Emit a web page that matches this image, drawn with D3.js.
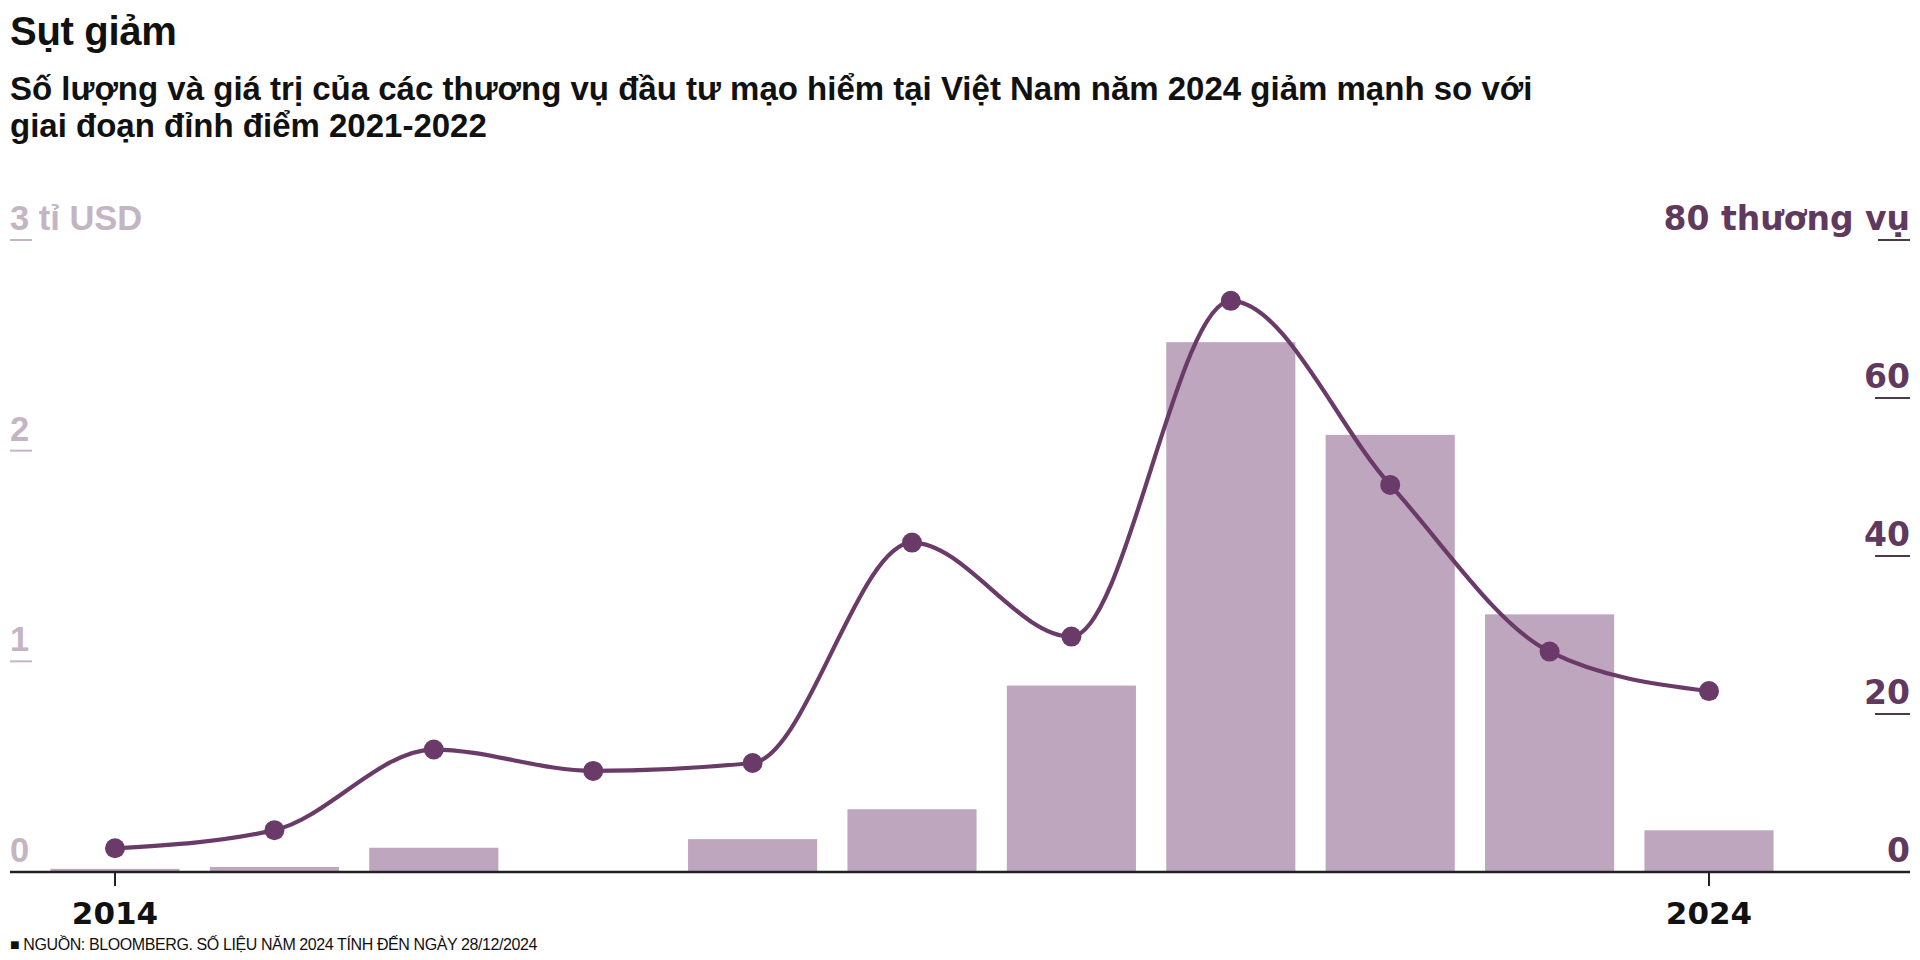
<!DOCTYPE html>
<html>
<head>
<meta charset="utf-8">
<script src="https://cdn.jsdelivr.net/npm/d3@7"></script>
<style>
  html, body { margin: 0; padding: 0; background: #fff; }
  svg { display: block; }
</style>
</head>
<body>
<div id="chart"></div>
<script>
const YEARS = [2014, 2015, 2016, 2017, 2018, 2019, 2020, 2021, 2022, 2023, 2024];
const VALUE_BN = [0.015, 0.024, 0.115, 0, 0.156, 0.298, 0.885, 2.515, 2.075, 1.223, 0.198];
const DEALS = [3, 5.3, 15.5, 12.8, 13.8, 41.7, 29.8, 72.3, 49, 27.9, 22.9];
const LEFT_TICKS = [0, 1, 2, 3];
const RIGHT_TICKS = [0, 20, 40, 60, 80];
const YEAR_LABELS = [2014, 2024];

const TITLE = 'Sụt giảm';
const SUBTITLE = ['Số lượng và giá trị của các thương vụ đầu tư mạo hiểm tại Việt Nam năm 2024 giảm mạnh so với', 'giai đoạn đỉnh điểm 2021-2022'];
const SOURCE = '■ NGUỒN: BLOOMBERG. SỐ LIỆU NĂM 2024 TÍNH ĐẾN NGÀY 28/12/2024';

const C = { bar: '#bea6be', line: '#6a3b69', leftText: '#c4b4c4', rightText: '#5f395e', axis: '#222' };

const W = 1920, H = 960, M = { t: 240, r: 10, b: 88, l: 10 };
const svg = d3.select('#chart').append('svg').attr('width', W).attr('height', H).attr('viewBox', `0 0 ${W} ${H}`);

const step = 159.4;
const x = d3.scaleBand().domain(YEARS).range([115 - step / 2, 1709 + step / 2]).paddingInner(0.19).paddingOuter(0.095);
const yL = d3.scaleLinear().domain([0, 3]).range([H - M.b, M.t]);
const yR = d3.scaleLinear().domain([0, 80]).range([H - M.b, M.t]);
const cx = d => x(d) + x.bandwidth() / 2;

// heading
svg.append('text').attr('x', 10).attr('y', 45).attr('fill', '#111')
  .style('font-family', 'Liberation Sans, Arial, sans-serif').style('font-weight', 700).style('font-size', '40px').style('letter-spacing', '-0.3px')
  .text(TITLE);
svg.append('g').selectAll('text').data(SUBTITLE).enter().append('text')
  .attr('x', 10).attr('y', (d, i) => 100 + i * 37).attr('fill', '#111')
  .style('font-family', 'Liberation Sans, Arial, sans-serif').style('font-weight', 700).style('font-size', '33px')
  .text(d => d);

// bars
svg.append('g').selectAll('rect').data(YEARS).enter().append('rect')
  .attr('x', d => x(d)).attr('width', x.bandwidth())
  .attr('y', (d, i) => yL(VALUE_BN[i])).attr('height', (d, i) => yL(0) - yL(VALUE_BN[i]))
  .attr('fill', C.bar);

// left axis (billion USD)
const gL = svg.append('g');
gL.selectAll('text').data(LEFT_TICKS).enter().append('text')
  .attr('x', 10).attr('y', d => yL(d) - 10).attr('fill', C.leftText)
  .style('font-family', 'Liberation Sans, Arial, sans-serif').style('font-weight', 700).style('font-size', '34.5px')
  .text(d => d === 3 ? '3 tỉ USD' : d);
gL.selectAll('line').data(LEFT_TICKS.filter(d => d > 0)).enter().append('line')
  .attr('x1', 10).attr('x2', 32).attr('y1', d => yL(d)).attr('y2', d => yL(d))
  .attr('stroke', C.leftText).attr('stroke-width', 2);

// right axis (deals)
const gR = svg.append('g');
gR.selectAll('text').data(RIGHT_TICKS).enter().append('text')
  .attr('x', 1910).attr('y', d => yR(d) - 10).attr('text-anchor', 'end').attr('fill', C.rightText)
  .style('font-family', 'DejaVu Sans, sans-serif').style('font-weight', 700).style('font-size', '33px')
  .text(d => d === 80 ? '80 thương vụ' : d);
gR.selectAll('line').data(RIGHT_TICKS.filter(d => d > 0)).enter().append('line')
  .attr('x1', d => d === 80 ? 1878 : 1875).attr('x2', 1910).attr('y1', d => yR(d)).attr('y2', d => yR(d))
  .attr('stroke', '#4a3a4a').attr('stroke-width', 2);

// baseline + year ticks
svg.append('line').attr('x1', 10).attr('x2', 1910).attr('y1', yL(0)).attr('y2', yL(0)).attr('stroke', C.axis).attr('stroke-width', 2.5);
const gX = svg.append('g').selectAll('g').data(YEAR_LABELS).enter().append('g').attr('transform', d => `translate(${cx(d)},${yL(0)})`);
gX.append('line').attr('y1', 0).attr('y2', 14).attr('stroke', C.axis).attr('stroke-width', 2);
gX.append('text').attr('y', 52).attr('text-anchor', 'middle').attr('fill', '#111')
  .style('font-family', 'DejaVu Sans, sans-serif').style('font-weight', 700).style('font-size', '31px')
  .text(d => d);

// deals line
const line = d3.line().x(d => cx(d[0])).y(d => yR(d[1])).curve(d3.curveMonotoneX);
const pts = YEARS.map((yr, i) => [yr, DEALS[i]]);
svg.append('path').datum(pts).attr('d', line).attr('fill', 'none').attr('stroke', C.line).attr('stroke-width', 4.2);
svg.append('g').selectAll('circle').data(pts).enter().append('circle')
  .attr('cx', d => cx(d[0])).attr('cy', d => yR(d[1])).attr('r', 10).attr('fill', C.line);

// source
svg.append('text').attr('x', 10).attr('y', 950).attr('fill', '#111')
  .style('font-family', 'Liberation Sans Narrow, Arial Narrow, sans-serif').style('font-size', '16px').style('letter-spacing', '-0.4px')
  .text(SOURCE);
</script>
</body>
</html>
